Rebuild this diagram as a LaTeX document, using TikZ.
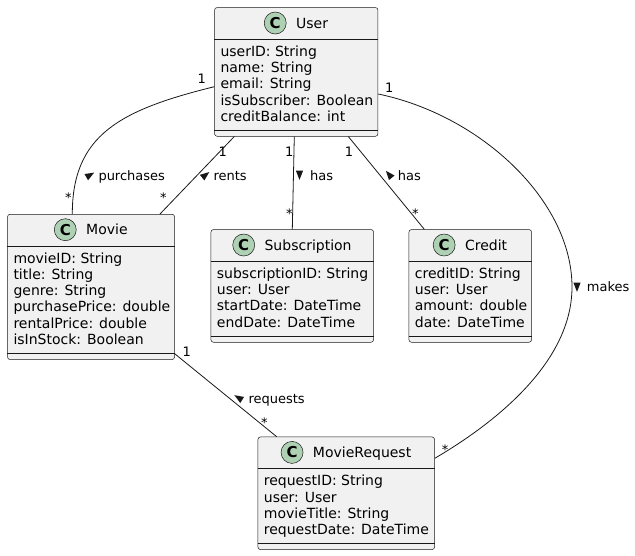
\documentclass[tikz,border=0pt]{standalone}
\usepackage{fontspec}
\setmainfont{DejaVu Sans}
\usetikzlibrary{calc}

\definecolor{boxfill}{HTML}{F1F1F1}
\definecolor{umlline}{HTML}{181818}
\definecolor{classicon}{HTML}{ADD1B2}

\tikzset{
  classnode/.style={draw=umlline, fill=boxfill, line width=0.5pt, rounded corners=2.5pt,
    inner sep=0pt, anchor=north west},
  sepline/.style={draw=umlline, line width=0.5pt},
  classtitle/.style={font=\fontsize{14}{16.3}\selectfont, inner sep=0pt, anchor=base},
  attr/.style={font=\fontsize{14}{16.3}\selectfont, inner sep=0pt, anchor=base west},
  iconC/.style={circle, draw=umlline, fill=classicon, line width=0.5pt, minimum size=22pt,
    inner sep=0pt, font=\fontsize{15}{15}\selectfont\bfseries},
  assoc/.style={draw=umlline, line width=0.8pt},
  elabel/.style={font=\fontsize{13}{15}\selectfont, inner sep=0pt, anchor=base west},
  mult/.style={font=\fontsize{13}{15}\selectfont, inner sep=0pt, anchor=base},
  dirtip/.style={fill=umlline},
}

% class box: name, left, top, width, height, title, attribute list
\newcommand{\classbox}[7]{%
  \node[classnode, minimum width=#4pt, minimum height=#5pt] (#1) at (#2,#3) {};
  \draw[sepline] ($(#1.north west)+(0,32)$) -- ($(#1.north east)+(0,32)$);
  \draw[sepline] ($(#1.south west)+(0,-6.5)$) -- ($(#1.south east)+(0,-6.5)$);
  \node[classtitle] (#1-title) at ($(#1.north)+(15.85,20.7)$) {#6};
  \node[iconC] (#1-icon) at ($(#1-title.base west)+(-20.7,-5)$) {C};
  \foreach \attrtext [count=\k] in {#7} {
    \node[attr] (#1-attr\k) at ($(#1.north west)+(6,{49+(\k-1)*16.3})$) {\attrtext};
  }
}

% small filled direction triangle: x, y, on-screen angle (counter-clockwise, y axis points down)
\newcommand{\dirmark}[3]{%
  \fill[dirtip] ($(#1,#2)+({-(#3)}:4.8)$) -- ($(#1,#2)+({-(#3)+140}:5.6)$)
    -- ($(#1,#2)+({-(#3)-140}:5.6)$) -- cycle;
}

\begin{document}
\begin{tikzpicture}[x=1pt, y=-1pt]
  \useasboundingbox (0,0) rectangle (635,555);

  \classbox{user}{214.3}{7.3}{163.4}{128.7}{User}%
    {userID: String, name: String, email: String, isSubscriber: Boolean, creditBalance: int}
  \classbox{movie}{7.3}{214}{167}{145.3}{Movie}%
    {movieID: String, title: String, genre: String, purchasePrice: double, rentalPrice: double, isInStock: Boolean}
  \classbox{sub}{210.7}{229.3}{162.6}{112.7}{Subscription}%
    {subscriptionID: String, user: User, startDate: DateTime, endDate: DateTime}
  \classbox{credit}{408.7}{229.3}{122.6}{112.7}{Credit}%
    {creditID: String, user: User, amount: double, date: DateTime}
  \classbox{mr}{257.7}{436.7}{176.6}{112.6}{MovieRequest}%
    {requestID: String, user: User, movieTitle: String, requestDate: DateTime}

  % associations
  \draw[assoc] ($(user.north west)+(0,79.4)$) .. controls (120,110) and (72.3,135) .. ($(movie.north west)+(65,0)$);
  \draw[assoc] ($(user.south west)+(20,0)$) -- ($(movie.north west)+(152.7,0)$);
  \draw[assoc] ($(user.south west)+(80,0)$) -- ($(sub.north west)+(81.6,0)$);
  \draw[assoc] ($(user.south west)+(134,0)$) -- ($(credit.north west)+(15.6,0)$);
  \draw[assoc] ($(user.north east)+(0,86.7)$) .. controls (480,115) and (572,200) .. (572,287)
    .. controls (572,360) and (500,420) .. ($(mr.north east)+(0,21.6)$);
  \draw[assoc] ($(movie.south east)+(0,-6)$) -- ($(mr.north west)+(19,0)$);

  % association names
  \node[elabel] (lbl-purchases) at (98.3,180) {purchases};
  \node[elabel] (lbl-rents) at (213.3,180) {rents};
  \node[elabel] (lbl-hassub) at (310,180) {has};
  \node[elabel] (lbl-hascredit) at (397.7,180) {has};
  \node[elabel] (lbl-makes) at (586.7,291.7) {makes};
  \node[elabel] (lbl-requests) at (248.3,403) {requests};

  \dirmark{90}{175}{30}
  \dirmark{205.5}{175}{38}
  \dirmark{299.5}{175}{-90}
  \dirmark{389}{174.5}{130}
  \dirmark{577}{287}{-90}
  \dirmark{238.5}{397.7}{148}

  % multiplicities
  \node[mult] (m-pu-1) at (201.7,83.5) {1};
  \node[mult] (m-pu-n) at (68.3,202.5) {*};
  \node[mult] (m-re-1) at (222.7,156) {1};
  \node[mult] (m-re-n) at (163.3,202.5) {*};
  \node[mult] (m-hs-1) at (289.3,156) {1};
  \node[mult] (m-hs-n) at (289.3,218.5) {*};
  \node[mult] (m-hc-1) at (349,156) {1};
  \node[mult] (m-hc-n) at (415.3,218.5) {*};
  \node[mult] (m-mk-1) at (389.3,92.7) {1};
  \node[mult] (m-mk-n) at (445,454) {*};
  \node[mult] (m-rq-1) at (186.7,356.7) {1};
  \node[mult] (m-rq-n) at (264.3,427) {*};
\end{tikzpicture}
\end{document}
